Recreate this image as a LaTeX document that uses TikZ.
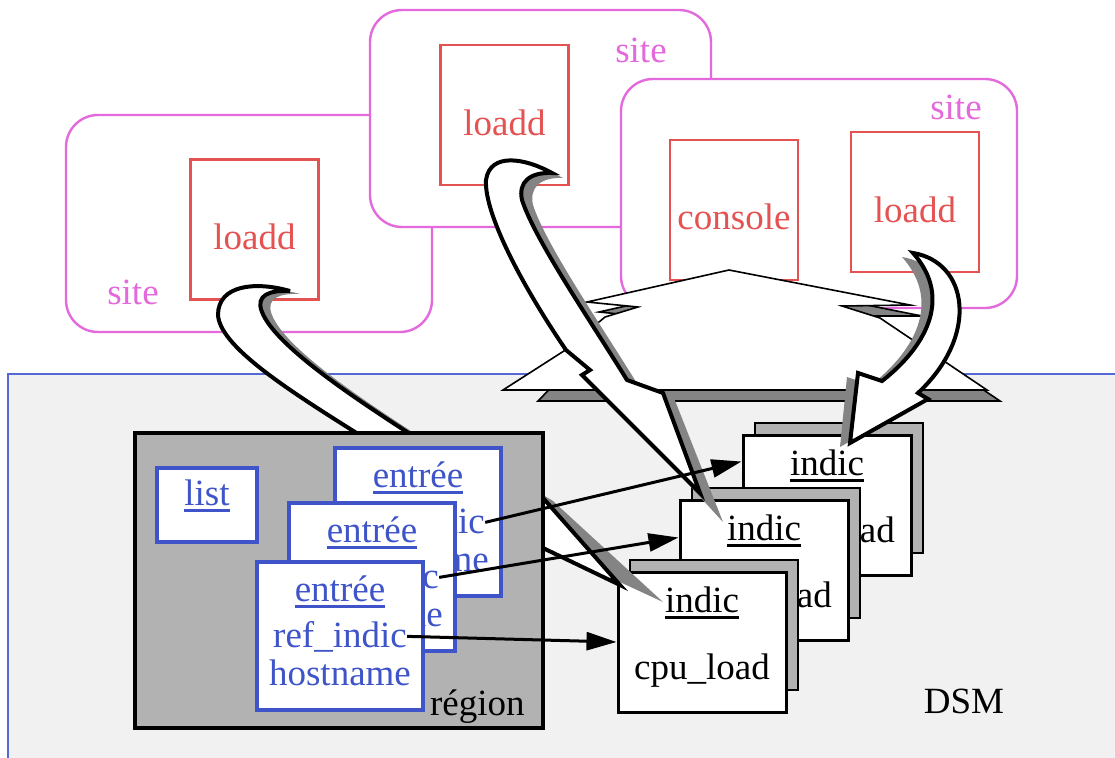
\documentclass[tikz,border=0pt]{standalone}
\usepackage{fontspec}
\setmainfont{Liberation Serif}
\usetikzlibrary{arrows.meta}

\definecolor{sitepink}{RGB}{228,105,220}
\definecolor{procred}{RGB}{228,82,82}
\definecolor{membleu}{RGB}{62,84,200}
\definecolor{dsmbleu}{RGB}{84,104,214}
\definecolor{dsmfond}{RGB}{241,241,241}
\definecolor{regfond}{RGB}{178,178,178}
\definecolor{ombre}{RGB}{132,132,132}

\newcommand{\souligne}[1]{\setbox0\hbox{#1}\rlap{\rule[-3.4pt]{\wd0}{1.2pt}}\box0}

\newcommand{\brasun}{(290,291) .. controls (255,281) and (218,285) .. (218,315)
  .. controls (220,345) and (280,385) .. (355,432)
  .. controls (430,480) and (500,525) .. (543,548) -- (tip) -- (543,498)
  .. controls (490,465) and (440,455) .. (407,432)
  .. controls (350,395) and (275,345) .. (262,312)
  .. controls (255,295) and (270,290) .. (290,291) -- cycle}
\newcommand{\brasdeux}{(552,173) .. controls (525,158) and (490,152) .. (486,180)
  .. controls (484,215) and (525,290) .. (566,350) -- (590,370) -- (582,375)
  -- (tip) -- (663,393) -- (627,380)
  .. controls (590,320) and (535,240) .. (522,200)
  .. controls (518,182) and (530,172) .. (552,173) -- cycle}
\newcommand{\brastrois}{(913,253) .. controls (968,262) and (980,335) .. (918,393)
  -- (928,399) -- (tip) -- (858,373) -- (882,381)
  .. controls (922,350) and (955,300) .. (913,253) -- cycle}

\begin{document}
\begin{tikzpicture}[x=0.5pt, y=-0.5pt, font=\fontsize{18.5}{22}\selectfont,
    site/.style={draw=sitepink, line width=1.2pt, fill=white, rounded corners=16pt},
    demon/.style={draw=procred, line width=1.3pt, fill=white, minimum width=64pt, minimum height=70pt},
    rouge/.style={text=procred, inner sep=0, anchor=base},
    rose/.style={text=sitepink, inner sep=0, anchor=base},
    bleu/.style={text=membleu, inner sep=0, anchor=base},
    noir/.style={inner sep=0, anchor=base},
    entree/.style={draw=membleu, line width=1.6pt, fill=white, minimum width=83pt, minimum height=74pt},
    cadre/.style={draw, line width=1pt, fill=regfond, minimum width=84pt, minimum height=65pt},
    indicbox/.style={draw, line width=1.5pt, fill=white, minimum width=84pt, minimum height=70pt},
    toit/.style={draw, line width=0.8pt, fill=white},
    bras/.style={draw, line width=2pt, fill=white, miter limit=6},
    brasombre/.style={fill=ombre},
    lien/.style={line width=1.5pt, -{Triangle[length=15pt, width=9pt]}}]
    \useasboundingbox (0,0) rectangle (1115,757);

    \node[site, minimum width=183pt, minimum height=108.5pt] (s1) at (249,223.5) {};
    \node[rose] (s1t) at (133,304) {site};
    \node[demon] (ld1) at (254.5,229.5) {};
    \node[rouge] (ld1t) at ([yshift=-10pt]ld1.center) {loadd};

    \node[site, minimum width=170.5pt, minimum height=108.5pt] (s2) at (540.5,118.5) {};
    \node[rose] (s2t) at (641,62) {site};
    \node[demon] (ld2) at (504.5,115) {};
    \node[rouge] (ld2t) at ([yshift=-10pt]ld2.center) {loadd};

    \node[site, minimum width=198pt, minimum height=114.5pt] (s3) at (819,193.5) {};
    \node[rose] (s3t) at (956,119) {site};
    \node[demon] (con) at (734,210) {};
    \node[rouge] (cont) at ([yshift=-9.5pt]con.center) {console};
    \node[demon] (ld3) at (915,202) {};
    \node[rouge] (ld3t) at ([yshift=-10pt]ld3.center) {loadd};

    \draw[draw=dsmbleu, line width=1pt, fill=dsmfond] (8,374) rectangle (1130,770);
    \node[noir] (dsm) at (964,713) {DSM};

    \draw[toit, fill=ombre] (741,280) -- (922,316) -- (854,316) -- (892,328) -- (1000,401)
        -- (538,401) -- (579,359) -- (617,328) -- (650,317) -- (599,312) -- cycle;
    \draw[toit] (729,270) -- (910,305) -- (842,306) -- (880,318) -- (987,390)
        -- (503,390) -- (567,349) -- (605,317) -- (638,307) -- (587,302) -- cycle;

    \foreach \n/\x/\y in {3/743/435, 2/680/500, 1/618/572} {
        \node[cadre] (o\n) at (\x+96,\y+53) {};
        \node[indicbox] (i\n) at (\x+84,\y+70) {};
        \node[noir] (it\n) at (\x+84,\y+40) {\souligne{indic}};
        \node[noir] (ic\n) at (\x+84,\y+107) {cpu\_load};
    }

    \coordinate (tip) at (663,602);
    \fill[brasombre, shift={(10,3)}] \brasun;
    \coordinate (tip) at (620,585);
    \draw[bras] \brasun;

    \node[draw, line width=1.6pt, fill=regfond, minimum width=204pt, minimum height=147.5pt] (reg) at (339,580.5) {};
    \node[noir, anchor=base east] (regt) at (525,715) {région};
    \node[entree, minimum width=50pt, minimum height=37pt] (lst) at (207,505) {};
    \node[bleu] (lstt) at (207,505) {\souligne{list}};

    \foreach \n/\x/\y in {1/335/448, 2/289/503, 3/257/562} {
        \node[entree] (e\n) at (\x+83,\y+74) {};
        \node[bleu] (et\n) at (\x+83,\y+39) {\souligne{entrée}};
        \node[bleu] (er\n) at (\x+83,\y+85) {ref\_indic};
        \node[bleu] (eh\n) at (\x+83,\y+123) {hostname};
    }

    \coordinate (tip) at (723,522);
    \fill[brasombre, shift={(11,5)}] \brasdeux;
    \coordinate (tip) at (700,493);
    \draw[bras] \brasdeux;
    \coordinate (tip) at (840,447);
    \fill[brasombre, shift={(-11,4)}] \brastrois;
    \coordinate (tip) at (850,443);
    \draw[bras] \brastrois;

    \draw[lien] (er1.east) -- ([yshift=-14pt]i3.north west);
    \draw[lien] (er2.east) -- ([yshift=-19.5pt]i2.north west);
    \draw[lien] (er3.east) -- (i1.west);
\end{tikzpicture}
\end{document}
